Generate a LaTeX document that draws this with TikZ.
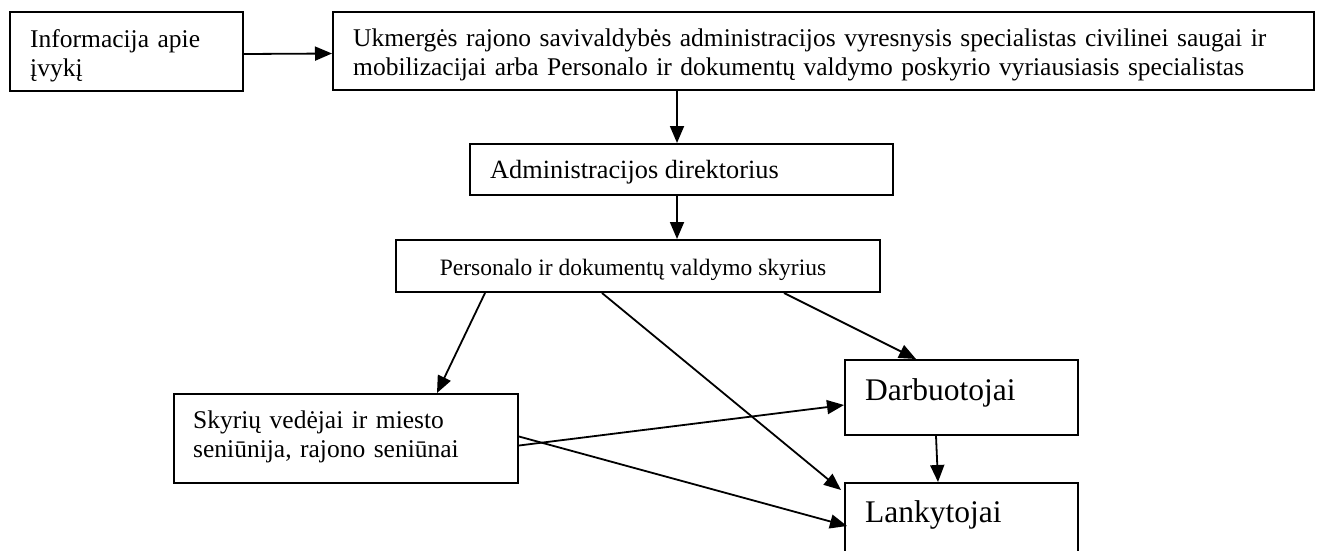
\documentclass[tikz,border=0pt]{standalone}
\usepackage{fontspec}
\setmainfont{Liberation Serif}
\usetikzlibrary{arrows.meta}
\begin{document}
\begin{tikzpicture}[x=1pt,y=-1pt,
  box/.style={draw=black, line width=2pt, rectangle, inner sep=0pt, anchor=north west},
  txt/.style={inner sep=0pt, anchor=base west, align=left, font=\fontsize{25.5}{29}\selectfont},
  big/.style={inner sep=0pt, anchor=base west, font=\fontsize{31.5}{36}\selectfont},
  arr/.style={line width=1.8pt, -{Triangle[length=17pt,width=14pt]}}]
\clip (0,0) rectangle (1324,550);
\fill[white] (0,0) rectangle (1324,550);
% boxes
\node[box, minimum width=233pt, minimum height=79pt] (b1) at (9,11) {};
\node[box, minimum width=981pt, minimum height=78pt] (b2) at (332,11) {};
\node[box, minimum width=423pt, minimum height=51pt] (b3) at (469,143) {};
\node[box, minimum width=484pt, minimum height=52pt] (b4) at (395,239) {};
\node[box, minimum width=344pt, minimum height=89pt] (b5) at (173,393) {};
\node[box, minimum width=233pt, minimum height=75pt] (b6) at (844,359) {};
\node[box, minimum width=233pt, minimum height=110pt] (b7) at (844,482) {};
% texts
\node[txt, text width=220pt] (t1) at ([shift={(21,36)}]b1.north west) {Informacija apie\\įvykį};
\node[txt, text width=975pt] (t2) at ([shift={(21,35)}]b2.north west) {Ukmergės rajono savivaldybės administracijos vyresnysis specialistas civilinei saugai ir\\mobilizacijai arba Personalo ir dokumentų valdymo poskyrio vyriausiasis specialistas};
\node[txt, font=\fontsize{26.3}{30}\selectfont] (t3) at ([shift={(21,35)}]b3.north west) {Administracijos direktorius};
\node[txt, anchor=base, font=\fontsize{23.5}{28}\selectfont] (t4) at ([shift={(-5,36)}]b4.north) {Personalo ir dokumentų valdymo skyrius};
\node[txt, text width=330pt] (t5) at ([shift={(20,35)}]b5.north west) {Skyrių vedėjai ir miesto\\seniūnija, rajono seniūnai};
\node[big] (t6) at ([shift={(21,41)}]b6.north west) {Darbuotojai};
\node[big] (t7) at ([shift={(21,40)}]b7.north west) {Lankytojai};
% connectors
\draw[arr] ([yshift=-2.5]b1.east) -- ([yshift=-2.5]b2.west);
\draw[arr] (b2.south -| 677,0) -- (b3.north -| 677,0);
\draw[arr] (b3.south -| 677,0) -- (b4.north -| 677,0);
\draw[arr] ([xshift=90]b4.south west) -- ([xshift=264]b5.north west);
\draw[arr] ([xshift=207]b4.south west) -- ([shift={(-3,8)}]b7.north west);
\draw[arr] ([xshift=389]b4.south west) -- ([xshift=72]b6.north west);
\draw[arr] ([yshift=-7]b5.east) -- ([yshift=-7.5]b6.west);
\draw[arr] ([yshift=2]b5.east) -- ([shift={(3,44)}]b7.north west);
\draw[arr] ([xshift=92]b6.south west) -- ([xshift=94]b7.north west);
\end{tikzpicture}
\end{document}
